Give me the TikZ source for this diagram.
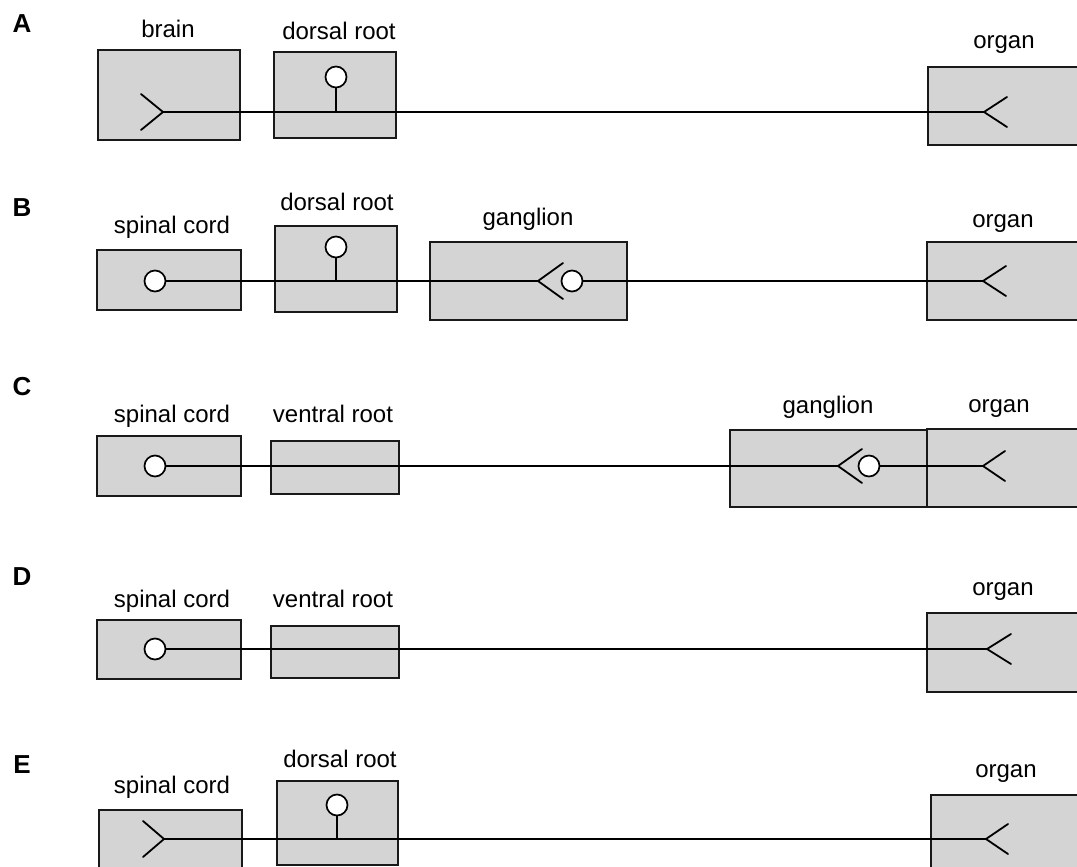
\documentclass[tikz,border=0pt]{standalone}
\usepackage{fontspec}
\setmainfont{Liberation Sans}
\usetikzlibrary{fit}

\definecolor{boxgray}{RGB}{212,212,212}
\newcommand\synfork[3]{\draw[axon] (#1) ++(#2,-#3) -- (#1) -- ++(#2,#3);}

\begin{document}
\begin{tikzpicture}[x=1pt,y=-1pt,
  box/.style={draw=black!90, line width=2pt, fill=boxgray, inner sep=0pt},
  axon/.style={line width=1.8pt, line cap=round},
  soma/.style={circle, draw, fill=white, line width=1.7pt, inner sep=0pt, minimum size=21pt},
  lbl/.style={anchor=base, inner sep=0pt, font=\fontsize{24}{27}\selectfont},
  panel/.style={inner sep=0pt, font=\fontsize{26}{28}\selectfont\bfseries}]
\useasboundingbox (0,0) rectangle (1077,867);
\clip (0,0) rectangle (1077,867);

% A
\node[panel] (pA) at (22,24) {A};
\node[box, fit={(98,50)(240,140)}] (brainA) {};
\node[box, fit={(274,52)(396,138)}] (dorsalA) {};
\node[box, fit={(928,67)(1100,145)}] (organA) {};
\node[lbl] (brainAl) at (168,38) {brain};
\node[lbl] (dorsalAl) at (339,40) {dorsal root};
\node[lbl] (organAl) at (1004,49) {organ};
\coordinate (synA1) at (163,112);
\coordinate (synA2) at (984,112);
\node[soma] (drgA) at (336,77) {};
\draw[axon] (synA1) -- (synA2);
\draw[axon] (drgA) -- (drgA |- synA1);
\synfork{synA1}{-22}{18}
\synfork{synA2}{23}{15}

% B
\node[panel] (pB) at (22,208) {B};
\node[box, fit={(97,250)(241,310)}] (cordB) {};
\node[box, fit={(275,226)(397,312)}] (dorsalB) {};
\node[box, fit={(430,242)(627,320)}] (gangB) {};
\node[box, fit={(927,242)(1100,320)}] (organB) {};
\node[lbl] (cordBl) at (172,233) {spinal cord};
\node[lbl] (dorsalBl) at (337,210) {dorsal root};
\node[lbl] (gangBl) at (528,225) {ganglion};
\node[lbl] (organBl) at (1003,227) {organ};
\coordinate (synB1) at (538,281);
\coordinate (synB2) at (983,281);
\node[soma] (motB) at (155,281) {};
\node[soma] (drgB) at (336,247) {};
\node[soma] (postB) at (572,281) {};
\draw[axon] (motB) -- (synB1);
\draw[axon] (drgB) -- (drgB |- synB1);
\draw[axon] (postB) -- (synB2);
\synfork{synB1}{25}{18}
\synfork{synB2}{23}{15}

% C
\node[panel] (pC) at (22,387) {C};
\node[box, fit={(97,436)(241,496)}] (cordC) {};
\node[box, fit={(271,441)(399,494)}] (ventralC) {};
\node[box, fit={(730,430)(927,507)}] (gangC) {};
\node[box, fit={(927,429)(1100,507)}] (organC) {};
\node[lbl] (cordCl) at (172,422) {spinal cord};
\node[lbl] (ventralCl) at (333,422) {ventral root};
\node[lbl] (gangCl) at (828,413) {ganglion};
\node[lbl] (organCl) at (999,412) {organ};
\coordinate (synC1) at (838,466);
\coordinate (synC2) at (983,466);
\node[soma] (motC) at (155,466) {};
\node[soma] (postC) at (869,466) {};
\draw[axon] (motC) -- (synC1);
\draw[axon] (postC) -- (synC2);
\synfork{synC1}{24}{17}
\synfork{synC2}{22}{15}

% D
\node[panel] (pD) at (22,577) {D};
\node[box, fit={(97,620)(241,679)}] (cordD) {};
\node[box, fit={(271,626)(399,678)}] (ventralD) {};
\node[box, fit={(927,613)(1100,692)}] (organD) {};
\node[lbl] (cordDl) at (172,607) {spinal cord};
\node[lbl] (ventralDl) at (333,607) {ventral root};
\node[lbl] (organDl) at (1003,595) {organ};
\coordinate (synD) at (987,649);
\node[soma] (motD) at (155,649) {};
\draw[axon] (motD) -- (synD);
\synfork{synD}{24}{15}

% E
\node[panel] (pE) at (22,765) {E};
\node[box, fit={(99,810)(242,900)}] (cordE) {};
\node[box, fit={(277,781)(398,865)}] (dorsalE) {};
\node[box, fit={(931,795)(1100,900)}] (organE) {};
\node[lbl] (cordEl) at (172,793) {spinal cord};
\node[lbl] (dorsalEl) at (340,767) {dorsal root};
\node[lbl] (organEl) at (1006,777) {organ};
\coordinate (synE1) at (164,839);
\coordinate (synE2) at (986,839);
\node[soma] (drgE) at (337,805) {};
\draw[axon] (synE1) -- (synE2);
\draw[axon] (drgE) -- (drgE |- synE1);
\synfork{synE1}{-21}{18}
\synfork{synE2}{22}{15}
\end{tikzpicture}
\end{document}
